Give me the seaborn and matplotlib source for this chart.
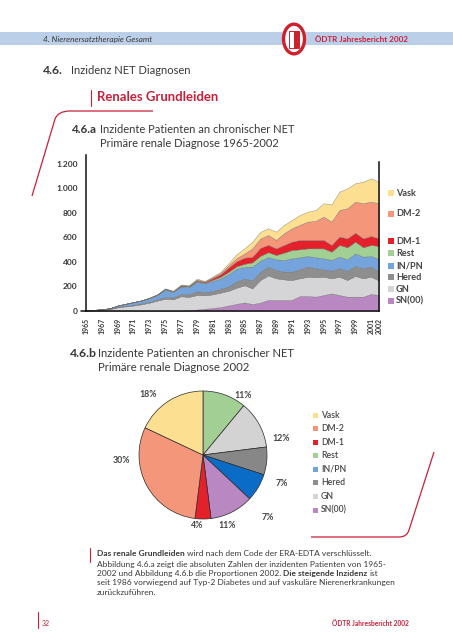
import matplotlib
matplotlib.use("Agg")
import matplotlib.pyplot as plt
import seaborn as sns
import numpy as np
from matplotlib.patches import Rectangle, Circle, PathPatch
from matplotlib.path import Path

# ---------------- data ----------------
years = list(range(1965, 2003))
sn = [0, 0, 0, 0, 0, 0, 0, 0, 1, 1, 2, 2, 3, 5,
      12, 18, 25, 32, 45, 58, 70, 57, 68, 90, 90, 90, 90, 122, 122, 117, 130, 144, 130, 117, 117, 117, 139, 130]
gn = [2, 6, 9, 15, 30, 38, 45, 55, 67, 84, 98, 93, 117, 110,
      118, 110, 111, 118, 120, 132, 140, 128, 185, 200, 177, 168, 163, 145, 158, 158, 150, 123, 150, 136, 169, 150, 141, 118]
hered = [1, 2, 2, 3, 4, 5, 6, 7, 8, 10, 15, 15, 18, 20,
         30, 27, 26, 32, 35, 50, 55, 65, 67, 70, 68, 63, 68, 73, 82, 73, 60, 62, 68, 76, 81, 81, 82, 73]
inpn = [1, 2, 3, 5, 10, 15, 20, 22, 28, 35, 60, 45, 62, 60,
        80, 70, 83, 83, 100, 105, 95, 112, 90, 80, 87, 95, 109, 98, 87, 90, 90, 87, 95, 93, 103, 95, 87, 101]
rest = [0, 0, 0, 0, 1, 1, 2, 2, 3, 3, 4, 4, 5, 5,
        5, 5, 10, 15, 20, 20, 25, 35, 40, 40, 35, 60, 68, 65, 62, 73, 81, 68, 96, 98, 96, 77, 90, 108]
dm1 = [0, 0, 0, 0, 0, 0, 0, 0, 0, 1, 1, 1, 3, 3,
       5, 6, 13, 20, 35, 40, 50, 45, 65, 60, 54, 63, 68, 77, 69, 69, 69, 55, 68, 73, 73, 73, 73, 63]
dm2 = [0, 0, 0, 0, 0, 0, 0, 1, 1, 1, 2, 2, 3, 3,
       6, 4, 7, 10, 17, 25, 33, 69, 75, 80, 69, 95, 109, 122, 149, 155, 190, 190, 217, 245, 253, 286, 280, 286]
vask = [0, 0, 0, 0, 0, 1, 1, 1, 2, 2, 3, 3, 5, 5,
        8, 5, 7, 10, 18, 32, 43, 55, 55, 55, 67, 68, 68, 81, 82, 89, 109, 141, 150, 163, 150, 176, 191, 176]

series_names = ["SN(00)", "GN", "Hered", "IN/PN", "Rest", "DM-1", "DM-2", "Vask"]
series_values = [sn, gn, hered, inpn, rest, dm1, dm2, vask]
y_ticks = [0, 200, 400, 600, 800, 1000, 1200]
x_tick_years = list(range(1965, 2002, 2)) + [2002]

legend_order = ["Vask", "DM-2", "DM-1", "Rest", "IN/PN", "Hered", "GN", "SN(00)"]

pie_labels = ["Rest", "GN", "Hered", "IN/PN", "SN(00)", "DM-1", "DM-2", "Vask"]
pie_pct = [11, 12, 7, 7, 11, 4, 30, 18]

# ---------------- style ----------------
area_colors = dict(zip(series_names, ["#b987c2", "#d5d5d7", "#8e8e8e", "#75a3db",
                                      "#a2cf94", "#e4212b", "#f4967a", "#fcdf91"]))
pie_colors = dict(area_colors)
pie_colors["IN/PN"] = "#0b6cc8"
pie_colors["GN"] = "#d3d3d3"
pie_colors["Hered"] = "#878787"
RED = "#c8203a"
TXT = "#383838"

sns.set_theme(style="white")
plt.rcParams['font.family'] = ['Lato', 'DejaVu Sans']

W, H = 453, 640
fig = plt.figure(figsize=(W / 100, H / 100), dpi=100)
fig.patch.set_facecolor("white")
R = fig.canvas.get_renderer()


def fx(x):
    return x / W


def fy(y):
    return 1 - y / H


def put(x, y, s, size=8, width=None, **kw):
    kw.setdefault("va", "baseline")
    t = fig.text(fx(x), fy(y), s, fontsize=size, **kw)
    if width:
        w = t.get_window_extent(R).width
        t.set_fontsize(size * width / w)
    return t


def text_w(s, size, weight="normal"):
    t = fig.text(0, 0, s, fontsize=size, fontweight=weight)
    w = t.get_window_extent(R).width
    t.remove()
    return w


def runs(x, y, parts, size, color):
    sp = text_w("a a", size) - text_w("aa", size)
    cur = x
    for i, (s, wgt) in enumerate(parts):
        t = fig.text(fx(cur), fy(y), s, fontsize=size, fontweight=wgt, color=color, va="baseline")
        cur += t.get_window_extent(R).width + sp


def fig_line(pts, codes, lw=0.9, color=RED):
    verts = [(fx(a), fy(b)) for a, b in pts]
    fig.add_artist(PathPatch(Path(verts, codes), transform=fig.transFigure,
                             fill=False, edgecolor=color, lw=lw))


# ---------------- header ----------------
fig.add_artist(Rectangle((0, fy(45)), 1, 13 / H, transform=fig.transFigure,
                         facecolor="#bccfe8", edgecolor="none"))
put(43, 42, "4. Nierenersatztherapie Gesamt", width=110, style="italic", color=TXT)
fig.add_artist(Circle((fx(294), fy(39)), 10.5 / W, transform=fig.transFigure,
                      facecolor="white", edgecolor="#d0202e", lw=2.4))
fig.add_artist(Rectangle((fx(289), fy(48)), 10 / W, 17 / H, transform=fig.transFigure,
                         facecolor="white", edgecolor="#d0202e", lw=0.7))
fig.add_artist(Rectangle((fx(294), fy(48)), 5 / W, 17 / H, transform=fig.transFigure,
                         facecolor="#d0202e", edgecolor="none"))
put(315, 42, "ÖDTR Jahresbericht 2002", width=94, fontweight="bold", color=RED)

put(43, 74, "4.6.", width=20, fontweight="bold", color=TXT)
put(71, 74, "Inzidenz NET Diagnosen", width=120, color=TXT)

fig.add_artist(plt.Line2D([fx(91), fx(91)], [fy(90), fy(106)], transform=fig.transFigure,
                          color=RED, lw=0.8))
put(97, 101, "Renales Grundleiden", width=122, fontweight="bold", color=RED)

fig_line([(153, 111), (70, 111), (58, 111), (55, 119), (32, 196)],
         [Path.MOVETO, Path.LINETO, Path.CURVE3, Path.CURVE3, Path.LINETO])

put(72, 133, "4.6.a", width=25, fontweight="bold", color=TXT)
put(100, 133, "Inzidente Patienten an chronischer NET", width=196, color=TXT)
put(100, 147, "Primäre renale Diagnose 1965-2002", width=179, color=TXT)

# ---------------- stacked area ----------------
ax = fig.add_axes([fx(86), fy(311), (379 - 86) / W, (311 - 155) / H])
ax.stackplot(years, *series_values, colors=[area_colors[n] for n in series_names],
             edgecolor="#707070", linewidth=0.25)
ax.set_xlim(1965, 2002)
ax.set_ylim(0, 1273)
ax.set_facecolor("white")
for side in ["left", "bottom", "right"]:
    ax.spines[side].set_visible(True)
    ax.spines[side].set_color("#111111")
    ax.spines[side].set_linewidth(1.1)
ax.spines["top"].set_visible(False)
ax.spines["right"].set_bounds(0, 1216)
ax.plot([-0.018, 0], [0, 0], transform=ax.transAxes, color="#111111", lw=1.1, clip_on=False)
ax.set_yticks(y_ticks)
ax.set_yticklabels([f"{v:,}".replace(",", ".") for v in y_ticks], fontsize=6,
                   fontweight="bold", color=TXT)
ax.set_xticks(x_tick_years)
ax.set_xticklabels([str(v) for v in x_tick_years], rotation=90, fontsize=5,
                   fontweight="bold", color=TXT)
ax.tick_params(axis="y", length=0, pad=6)
ax.tick_params(axis="x", length=0, pad=5)
ax.grid(False)

area_leg_y = [193, 214, 241, 253, 266, 277, 289, 301]
for name, yy in zip(legend_order, area_leg_y):
    fig.add_artist(Rectangle((fx(388), fy(yy + 3)), 6 / W, 6 / H, transform=fig.transFigure,
                             facecolor=area_colors[name], edgecolor="none"))
    fig.text(fx(396), fy(yy), name, fontsize=6.6, fontweight="bold", color="#444444",
             va="center", ha="left")

# ---------------- pie ----------------
put(70, 357, "4.6.b", width=27, fontweight="bold", color=TXT)
put(98, 357, "Inzidente Patienten an chronischer NET", width=197, color=TXT)
put(98, 371, "Primäre renale Diagnose 2002", width=152, color=TXT)

ax2 = fig.add_axes([fx(123), fy(535), 160 / W, 160 / H])
ax2.pie(pie_pct, colors=[pie_colors[n] for n in pie_labels], startangle=90,
        counterclock=False, wedgeprops=dict(edgecolor="#2a2a2a", linewidth=0.5))
ax2.set_xlim(-1.25, 1.25)
ax2.set_ylim(-1.25, 1.25)
ax2.set_aspect("equal")
ax2.axis("off")
label_pos = [(56, 1.13), (12, 1.25), (-20, 1.31), (-44, 1.40),
             (-71, 1.17), (-95, 1.11), (184, 1.27), (132, 1.28)]
for p, (ang, rad) in zip(pie_pct, label_pos):
    a = np.deg2rad(ang)
    ax2.text(rad * np.cos(a), rad * np.sin(a), f"{p}%", ha="center", va="center",
             fontsize=6.3, fontweight="bold", color="#444444", clip_on=False)

pie_leg_y = np.linspace(415, 510, 8)
for name, yy in zip(legend_order, pie_leg_y):
    fig.add_artist(Rectangle((fx(313), fy(yy + 2.5)), 5 / W, 5 / H, transform=fig.transFigure,
                             facecolor=area_colors[name], edgecolor="none"))
    fig.text(fx(321), fy(yy), name, fontsize=6.2, fontweight="semibold", color="#444444",
             va="center", ha="left")

fig_line([(434, 452), (409, 530), (407, 537), (399, 537), (311, 537)],
         [Path.MOVETO, Path.LINETO, Path.CURVE3, Path.CURVE3, Path.LINETO])

# ---------------- paragraph ----------------
fig.add_artist(plt.Line2D([fx(90), fx(90)], [fy(548), fy(562)], transform=fig.transFigure,
                          color=RED, lw=0.8))
psize = 8 * 292 / text_w("Abbildung 4.6.a zeigt die absoluten Zahlen der inzidenten Patienten von 1965-", 8)
lines = [
    [("Das renale Grundleiden", "bold"), ("wird nach dem Code der ERA-EDTA verschlüsselt.", "normal")],
    [("Abbildung 4.6.a zeigt die absoluten Zahlen der inzidenten Patienten von 1965-", "normal")],
    [("2002 und Abbildung 4.6.b die Proportionen 2002.", "normal"), ("Die steigende Inzidenz", "bold"),
     ("ist", "normal")],
    [("seit 1986 vorwiegend auf Typ-2 Diabetes und auf vaskuläre Nierenerkrankungen", "normal")],
    [("zurückzuführen.", "normal")],
]
for parts, yy in zip(lines, [556, 566.5, 576, 585.5, 595]):
    runs(97, yy, parts, psize, TXT)

# ---------------- footer ----------------
fig.add_artist(plt.Line2D([fx(38), fx(38)], [fy(612), fy(628)], transform=fig.transFigure,
                          color=RED, lw=0.8))
put(42, 626, "32", width=8, color=RED)
put(332, 626, "ÖDTR Jahresbericht 2002", width=78, fontweight="bold", color=RED)

fig.savefig("out.png", dpi=100, facecolor="white")
